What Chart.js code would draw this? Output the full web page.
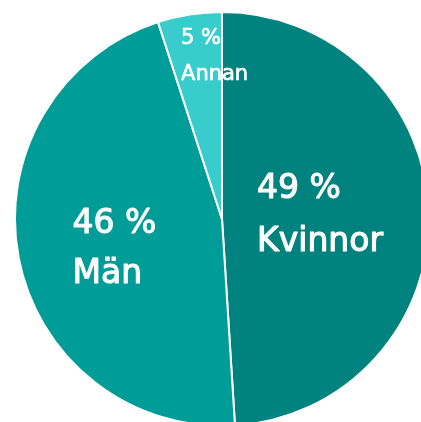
<!DOCTYPE html>
<html>
<head>
<meta charset="utf-8">
<script src="https://cdn.jsdelivr.net/npm/chart.js@4/dist/chart.umd.min.js"></script>
<style>
  html, body { margin: 0; padding: 0; background: #fff; overflow: hidden; }
  body { width: 421px; height: 422px; position: relative; }
  #wrap { position: absolute; left: 14px; top: 11px; width: 416px; height: 416px; }
</style>
</head>
<body>
<div id="wrap"><canvas id="myChart"></canvas></div>
<script>
// data
const categories = ['Kvinnor', 'Män', 'Annan'];
const shares = [49, 46, 5];
const sliceColors = ['#00827f', '#009c98', '#38cccc'];

// where each label block sits inside its slice:
// part of the slice angle (0 = start, 1 = end) and part of the radius
const labelTurn = [0.5, 0.47, 0.855];
const labelRadius = [0.474, 0.54, 0.786];
const labelFont = [33, 33, 21];
const labelLine = [1.6, 1.52, 1.7];

const pieLabels = {
  id: 'pieLabels',
  afterDatasetsDraw(chart) {
    const { ctx } = chart;
    const arcs = chart.getDatasetMeta(0).data;
    arcs.forEach((arc, i) => {
      const p = arc.getProps(['x', 'y', 'startAngle', 'endAngle', 'outerRadius'], true);
      const ang = p.startAngle + (p.endAngle - p.startAngle) * labelTurn[i];
      const r = p.outerRadius * labelRadius[i];
      const cx = p.x + Math.cos(ang) * r;
      const cy = p.y + Math.sin(ang) * r;
      const size = labelFont[i];
      const lines = [`${shares[i]} %`, categories[i]];
      ctx.save();
      ctx.font = `${size}px "DejaVu Sans"`;
      ctx.fillStyle = '#ffffff';
      ctx.strokeStyle = '#ffffff';
      ctx.lineWidth = size / 30;
      ctx.lineJoin = 'round';
      ctx.textAlign = 'left';
      ctx.textBaseline = 'middle';
      const w = Math.max(...lines.map((l) => ctx.measureText(l).width));
      const lh = size * labelLine[i];
      const left = cx - w / 2;
      lines.forEach((l, k) => {
        const y = cy + (k - (lines.length - 1) / 2) * lh;
        ctx.fillText(l, left, y);
        ctx.strokeText(l, left, y);
      });
      ctx.restore();
    });
  },
};

const ctx = document.getElementById('myChart').getContext('2d');
const myChart = new Chart(ctx, {
  type: 'pie',
  data: {
    labels: categories,
    datasets: [{
      data: shares,
      backgroundColor: sliceColors,
      borderColor: '#ffffff',
      borderWidth: 2,
    }],
  },
  options: {
    responsive: true,
    maintainAspectRatio: false,
    animation: false,
    layout: { padding: 0 },
    plugins: {
      legend: { display: false },
      tooltip: { enabled: false },
    },
  },
  plugins: [pieLabels],
});
</script>
</body>
</html>
